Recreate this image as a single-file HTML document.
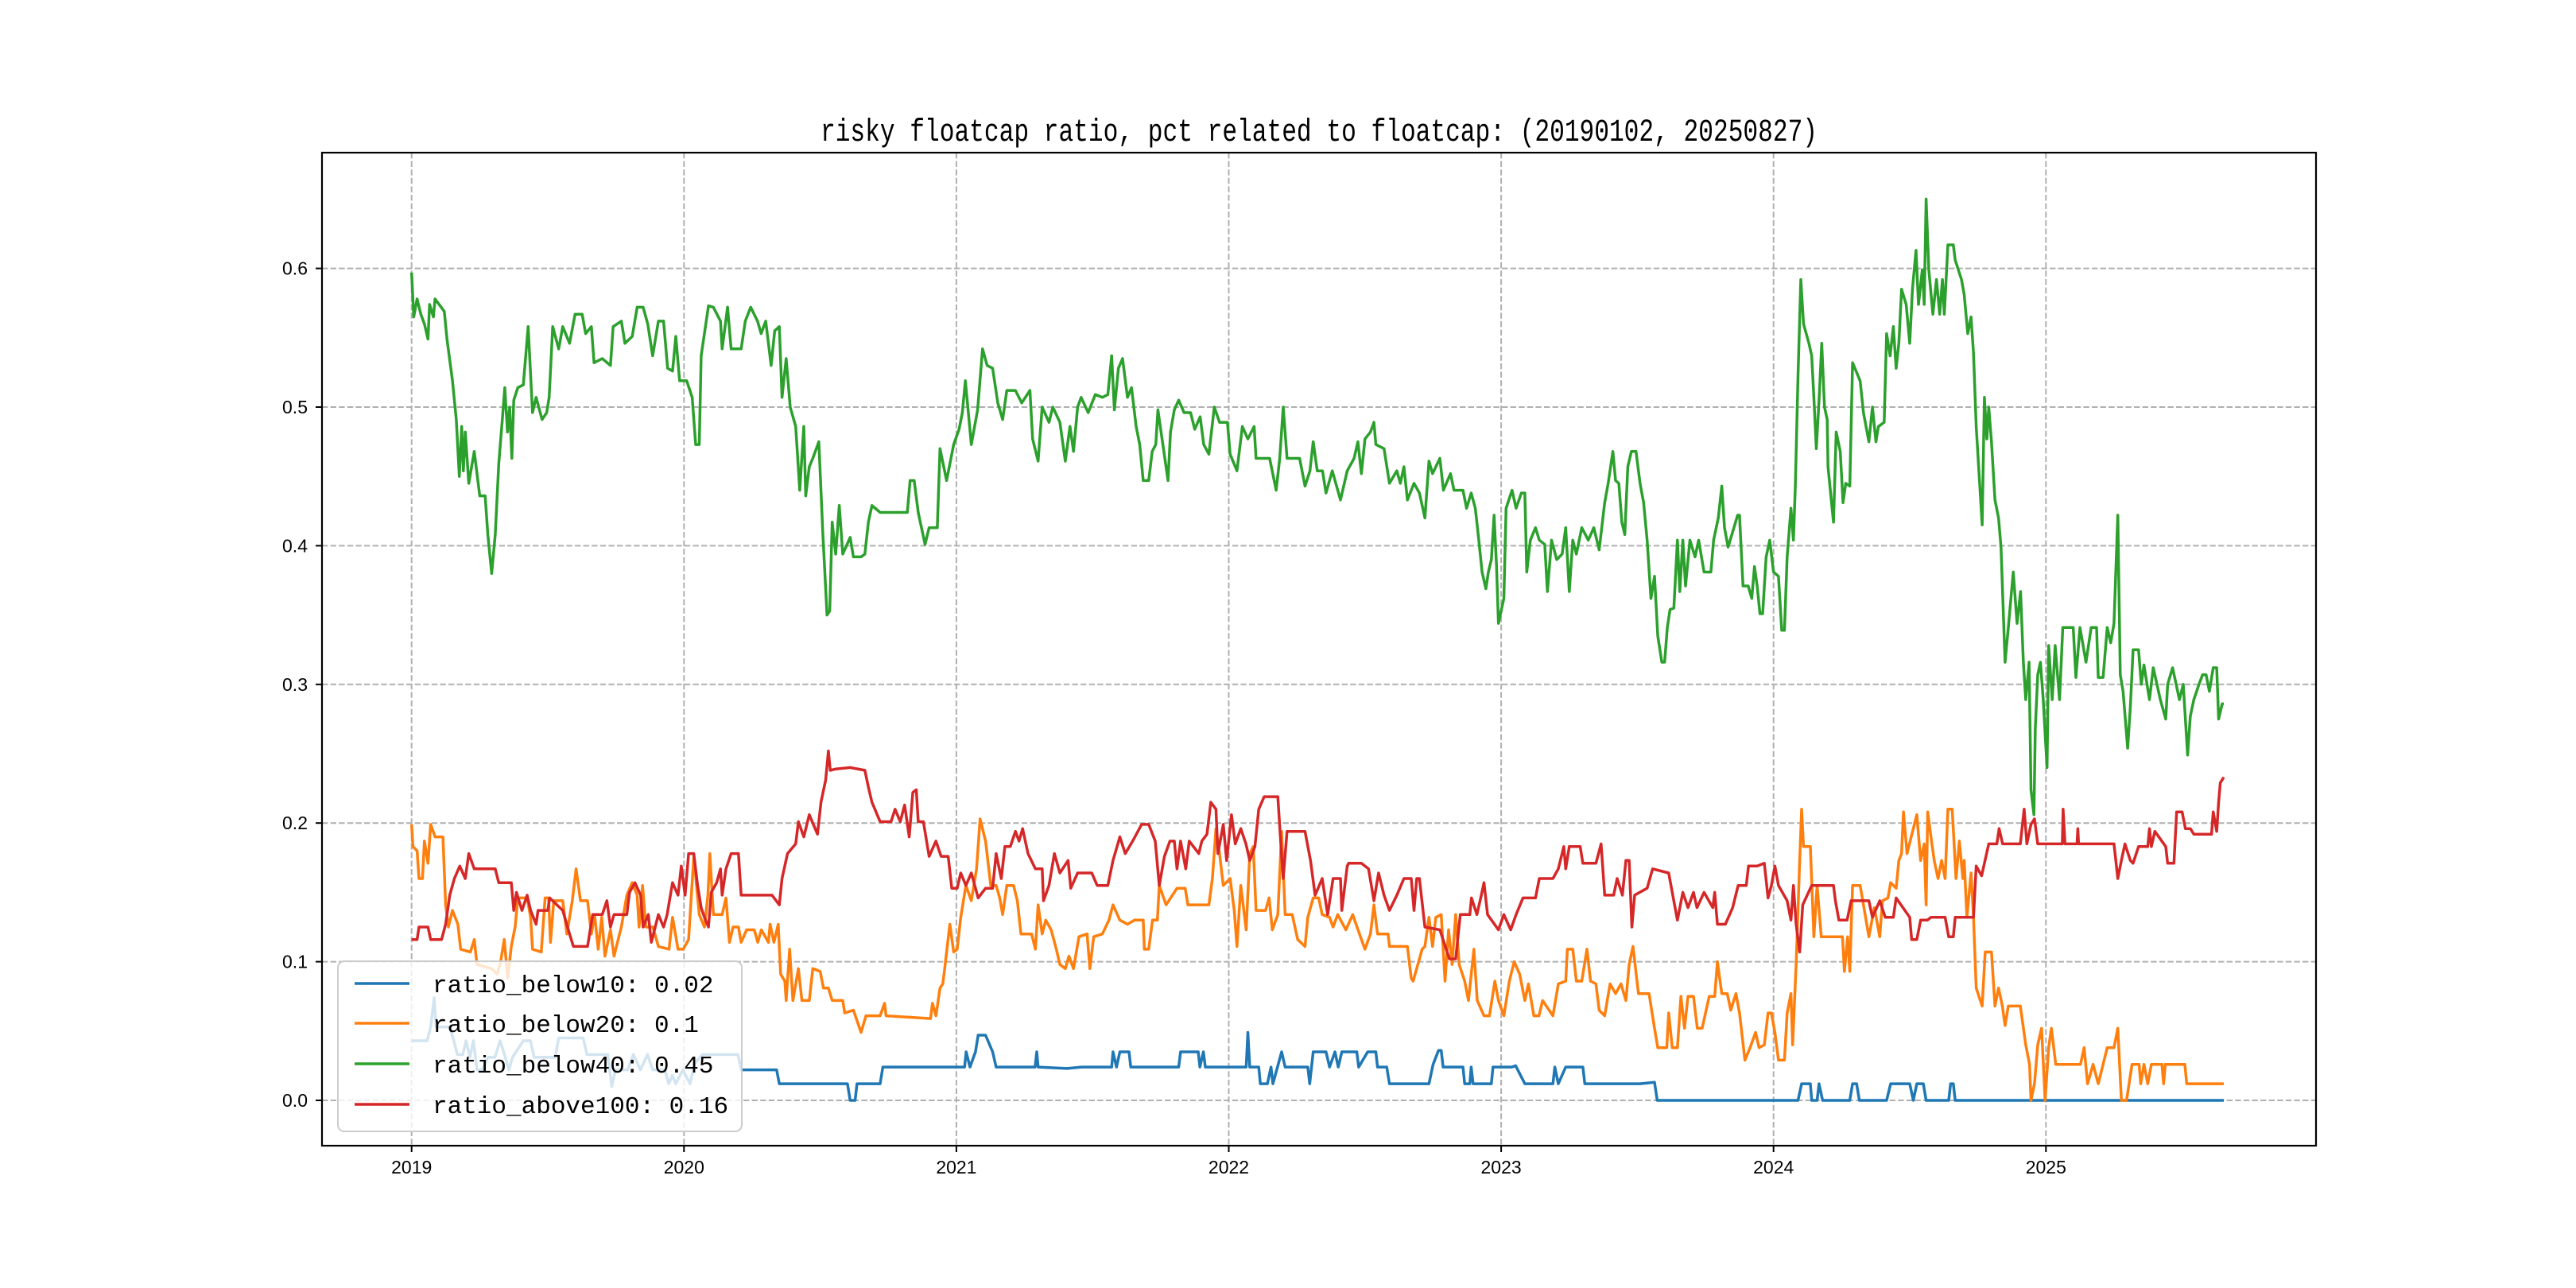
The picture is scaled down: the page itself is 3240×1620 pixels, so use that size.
<!DOCTYPE html>
<html><head><meta charset="utf-8"><title>risky floatcap ratio</title>
<style>html,body{margin:0;padding:0;background:#fff}svg{display:block}</style></head>
<body>
<svg id="chart" width="3240" height="1620" viewBox="0 0 3240 1620" xmlns="http://www.w3.org/2000/svg">
<rect x="0" y="0" width="3240" height="1620" fill="#fff"/>
<defs><clipPath id="plotclip"><rect x="405" y="192" width="2508" height="1249"/></clipPath></defs>
<g id="grid"></g>
<g id="series" clip-path="url(#plotclip)"></g>
<rect x="405" y="192" width="2508" height="1249" fill="none" stroke="#000" stroke-width="2.2"/>
<g id="ticks"></g>
<text x="1659" y="177" text-anchor="middle" font-family="Liberation Mono, Noto Sans CJK SC, monospace" font-size="40" textLength="1254" lengthAdjust="spacingAndGlyphs" fill="#000">risky floatcap ratio, pct related to floatcap: (20190102, 20250827)</text>
<g id="legend">
<rect x="425" y="1209" width="508" height="214" rx="8" fill="#fff" fill-opacity="0.8" stroke="#cccccc" stroke-width="2"/>
</g>
</svg>
<script>
const yearTicks = [2019, 2020, 2021, 2022, 2023, 2024, 2025];
const yearLabels = ["2019", "2020", "2021", "2022", "2023", "2024", "2025"];
const valueTicks = [0.0, 0.1, 0.2, 0.3, 0.4, 0.5, 0.6];
const valueLabels = ["0.0", "0.1", "0.2", "0.3", "0.4", "0.5", "0.6"];
const seriesNames = ["ratio_below10: 0.02", "ratio_below20: 0.1", "ratio_below40: 0.45", "ratio_above100: 0.16"];

const below40Series = [[2019.00,0.597],[2019.008,0.565],[2019.02,0.578],[2019.034,0.567],[2019.047,0.56],[2019.06,0.549],[2019.066,0.574],[2019.08,0.565],[2019.086,0.578],[2019.12,0.569],[2019.13,0.549],[2019.15,0.519],[2019.164,0.491],[2019.175,0.45],[2019.184,0.486],[2019.19,0.454],[2019.197,0.482],[2019.21,0.445],[2019.23,0.468],[2019.25,0.436],[2019.27,0.436],[2019.28,0.408],[2019.294,0.38],[2019.307,0.408],[2019.32,0.459],[2019.333,0.491],[2019.342,0.514],[2019.352,0.482],[2019.36,0.5],[2019.368,0.463],[2019.375,0.505],[2019.39,0.514],[2019.41,0.516],[2019.428,0.558],[2019.444,0.496],[2019.457,0.507],[2019.479,0.491],[2019.496,0.496],[2019.505,0.507],[2019.518,0.558],[2019.54,0.542],[2019.555,0.558],[2019.58,0.546],[2019.60,0.567],[2019.626,0.567],[2019.639,0.553],[2019.66,0.558],[2019.67,0.532],[2019.70,0.535],[2019.73,0.53],[2019.74,0.558],[2019.77,0.562],[2019.783,0.546],[2019.81,0.551],[2019.828,0.572],[2019.85,0.572],[2019.867,0.56],[2019.885,0.537],[2019.906,0.562],[2019.925,0.562],[2019.94,0.528],[2019.958,0.526],[2019.97,0.551],[2019.984,0.519],[2020.01,0.519],[2020.03,0.507],[2020.043,0.473],[2020.056,0.473],[2020.063,0.537],[2020.09,0.573],[2020.108,0.572],[2020.134,0.562],[2020.14,0.542],[2020.16,0.572],[2020.173,0.542],[2020.21,0.542],[2020.225,0.562],[2020.245,0.572],[2020.27,0.562],[2020.283,0.553],[2020.30,0.562],[2020.32,0.53],[2020.333,0.555],[2020.35,0.558],[2020.36,0.507],[2020.375,0.535],[2020.39,0.5],[2020.41,0.486],[2020.425,0.44],[2020.44,0.486],[2020.447,0.436],[2020.46,0.457],[2020.473,0.463],[2020.495,0.475],[2020.51,0.408],[2020.525,0.35],[2020.535,0.353],[2020.544,0.417],[2020.557,0.394],[2020.57,0.429],[2020.583,0.394],[2020.61,0.406],[2020.622,0.392],[2020.65,0.392],[2020.664,0.394],[2020.677,0.417],[2020.69,0.429],[2020.72,0.424],[2020.78,0.424],[2020.82,0.424],[2020.83,0.447],[2020.845,0.447],[2020.86,0.424],[2020.885,0.401],[2020.90,0.413],[2020.93,0.413],[2020.94,0.47],[2020.964,0.447],[2020.99,0.473],[2021.01,0.484],[2021.022,0.496],[2021.033,0.519],[2021.055,0.473],[2021.078,0.498],[2021.096,0.542],[2021.113,0.53],[2021.133,0.528],[2021.152,0.503],[2021.17,0.491],[2021.185,0.512],[2021.217,0.512],[2021.24,0.503],[2021.27,0.512],[2021.28,0.477],[2021.30,0.461],[2021.315,0.5],[2021.34,0.489],[2021.354,0.5],[2021.38,0.489],[2021.40,0.461],[2021.417,0.486],[2021.43,0.468],[2021.445,0.5],[2021.458,0.507],[2021.484,0.496],[2021.51,0.509],[2021.536,0.507],[2021.556,0.509],[2021.57,0.537],[2021.58,0.498],[2021.595,0.528],[2021.61,0.535],[2021.628,0.507],[2021.643,0.514],[2021.66,0.486],[2021.673,0.473],[2021.686,0.447],[2021.706,0.447],[2021.719,0.468],[2021.732,0.473],[2021.74,0.498],[2021.758,0.473],[2021.777,0.447],[2021.786,0.482],[2021.80,0.498],[2021.816,0.505],[2021.836,0.496],[2021.86,0.496],[2021.875,0.484],[2021.895,0.493],[2021.908,0.473],[2021.927,0.466],[2021.947,0.5],[2021.966,0.489],[2021.995,0.489],[2022.005,0.466],[2022.03,0.454],[2022.05,0.486],[2022.07,0.477],[2022.093,0.486],[2022.10,0.463],[2022.15,0.463],[2022.174,0.44],[2022.187,0.463],[2022.20,0.5],[2022.214,0.463],[2022.26,0.463],[2022.28,0.443],[2022.298,0.454],[2022.31,0.475],[2022.325,0.454],[2022.344,0.454],[2022.357,0.438],[2022.38,0.454],[2022.41,0.433],[2022.435,0.454],[2022.46,0.463],[2022.474,0.475],[2022.487,0.452],[2022.50,0.477],[2022.52,0.482],[2022.533,0.489],[2022.54,0.473],[2022.57,0.47],[2022.59,0.445],[2022.617,0.454],[2022.63,0.445],[2022.643,0.457],[2022.656,0.433],[2022.68,0.445],[2022.70,0.438],[2022.72,0.42],[2022.735,0.461],[2022.748,0.452],[2022.775,0.463],[2022.788,0.44],[2022.814,0.452],[2022.827,0.44],[2022.86,0.44],[2022.873,0.427],[2022.89,0.438],[2022.905,0.427],[2022.918,0.404],[2022.93,0.381],[2022.944,0.369],[2022.953,0.381],[2022.964,0.39],[2022.974,0.422],[2022.983,0.385],[2022.99,0.344],[2023.01,0.362],[2023.018,0.427],[2023.04,0.44],[2023.055,0.427],[2023.074,0.438],[2023.087,0.438],[2023.094,0.381],[2023.107,0.404],[2023.126,0.413],[2023.14,0.404],[2023.16,0.401],[2023.17,0.367],[2023.185,0.404],[2023.204,0.39],[2023.224,0.394],[2023.237,0.413],[2023.25,0.367],[2023.263,0.404],[2023.276,0.394],[2023.296,0.413],[2023.32,0.404],[2023.34,0.413],[2023.36,0.397],[2023.38,0.431],[2023.393,0.445],[2023.41,0.468],[2023.42,0.447],[2023.432,0.445],[2023.443,0.417],[2023.454,0.408],[2023.465,0.457],[2023.478,0.468],[2023.495,0.468],[2023.51,0.445],[2023.523,0.431],[2023.536,0.404],[2023.55,0.362],[2023.563,0.378],[2023.575,0.335],[2023.59,0.316],[2023.60,0.316],[2023.61,0.341],[2023.62,0.354],[2023.634,0.355],[2023.647,0.404],[2023.656,0.367],[2023.667,0.404],[2023.677,0.371],[2023.693,0.404],[2023.712,0.392],[2023.725,0.404],[2023.745,0.381],[2023.77,0.381],[2023.78,0.404],[2023.797,0.42],[2023.81,0.443],[2023.82,0.413],[2023.833,0.399],[2023.85,0.41],[2023.868,0.422],[2023.875,0.422],[2023.888,0.371],[2023.907,0.371],[2023.92,0.362],[2023.93,0.385],[2023.94,0.371],[2023.95,0.351],[2023.96,0.351],[2023.973,0.392],[2023.986,0.404],[2024.0,0.381],[2024.018,0.378],[2024.03,0.339],[2024.04,0.339],[2024.05,0.392],[2024.064,0.427],[2024.073,0.404],[2024.08,0.443],[2024.09,0.523],[2024.10,0.592],[2024.11,0.56],[2024.13,0.546],[2024.14,0.537],[2024.148,0.507],[2024.157,0.47],[2024.168,0.509],[2024.177,0.546],[2024.187,0.5],[2024.197,0.491],[2024.20,0.457],[2024.22,0.417],[2024.23,0.482],[2024.245,0.468],[2024.255,0.431],[2024.265,0.445],[2024.28,0.443],[2024.29,0.532],[2024.318,0.519],[2024.33,0.496],[2024.35,0.475],[2024.363,0.5],[2024.376,0.475],[2024.385,0.486],[2024.406,0.489],[2024.415,0.553],[2024.428,0.537],[2024.44,0.558],[2024.45,0.528],[2024.46,0.546],[2024.47,0.585],[2024.487,0.574],[2024.50,0.546],[2024.51,0.585],[2024.523,0.613],[2024.532,0.574],[2024.546,0.599],[2024.553,0.574],[2024.56,0.65],[2024.57,0.599],[2024.585,0.567],[2024.598,0.592],[2024.61,0.567],[2024.62,0.592],[2024.627,0.567],[2024.64,0.617],[2024.66,0.617],[2024.667,0.606],[2024.69,0.592],[2024.70,0.581],[2024.713,0.553],[2024.725,0.565],[2024.734,0.539],[2024.744,0.486],[2024.766,0.415],[2024.774,0.507],[2024.783,0.477],[2024.79,0.5],[2024.80,0.475],[2024.813,0.433],[2024.826,0.42],[2024.835,0.399],[2024.85,0.316],[2024.862,0.341],[2024.88,0.381],[2024.894,0.344],[2024.907,0.367],[2024.917,0.316],[2024.926,0.289],[2024.938,0.316],[2024.945,0.224],[2024.956,0.206],[2024.961,0.268],[2024.97,0.307],[2024.98,0.316],[2024.99,0.289],[2025.004,0.24],[2025.01,0.328],[2025.023,0.289],[2025.034,0.328],[2025.05,0.289],[2025.062,0.341],[2025.10,0.341],[2025.11,0.305],[2025.125,0.341],[2025.147,0.316],[2025.166,0.341],[2025.186,0.341],[2025.192,0.305],[2025.21,0.305],[2025.225,0.341],[2025.238,0.33],[2025.25,0.344],[2025.264,0.422],[2025.273,0.307],[2025.283,0.295],[2025.30,0.254],[2025.31,0.284],[2025.32,0.325],[2025.34,0.325],[2025.35,0.3],[2025.36,0.314],[2025.38,0.289],[2025.394,0.312],[2025.42,0.289],[2025.44,0.275],[2025.447,0.3],[2025.465,0.312],[2025.478,0.3],[2025.49,0.289],[2025.504,0.3],[2025.52,0.249],[2025.53,0.277],[2025.543,0.289],[2025.562,0.3],[2025.575,0.307],[2025.588,0.307],[2025.60,0.295],[2025.614,0.312],[2025.627,0.312],[2025.634,0.275],[2025.647,0.286],[2025.653,0.286]];

const above100Series = [[2019.0,0.116],[2019.02,0.116],[2019.027,0.125],[2019.06,0.125],[2019.07,0.116],[2019.11,0.116],[2019.125,0.127],[2019.14,0.148],[2019.157,0.16],[2019.177,0.169],[2019.197,0.16],[2019.21,0.178],[2019.23,0.167],[2019.307,0.167],[2019.32,0.157],[2019.366,0.157],[2019.375,0.137],[2019.385,0.15],[2019.405,0.137],[2019.424,0.148],[2019.437,0.137],[2019.457,0.127],[2019.464,0.137],[2019.50,0.137],[2019.507,0.146],[2019.555,0.137],[2019.58,0.12],[2019.594,0.111],[2019.646,0.111],[2019.665,0.134],[2019.70,0.134],[2019.717,0.144],[2019.73,0.125],[2019.743,0.134],[2019.79,0.134],[2019.80,0.15],[2019.82,0.157],[2019.841,0.148],[2019.85,0.125],[2019.869,0.134],[2019.88,0.114],[2019.906,0.134],[2019.925,0.125],[2019.938,0.134],[2019.95,0.148],[2019.958,0.157],[2019.978,0.148],[2019.99,0.169],[2020.004,0.148],[2020.017,0.178],[2020.036,0.178],[2020.05,0.155],[2020.063,0.139],[2020.075,0.132],[2020.09,0.125],[2020.10,0.15],[2020.12,0.157],[2020.134,0.167],[2020.14,0.148],[2020.154,0.167],[2020.173,0.178],[2020.2,0.178],[2020.21,0.148],[2020.23,0.148],[2020.323,0.148],[2020.35,0.141],[2020.36,0.16],[2020.38,0.178],[2020.41,0.185],[2020.42,0.201],[2020.44,0.19],[2020.46,0.206],[2020.49,0.192],[2020.503,0.215],[2020.52,0.231],[2020.53,0.252],[2020.537,0.238],[2020.557,0.239],[2020.61,0.24],[2020.664,0.238],[2020.677,0.226],[2020.69,0.215],[2020.72,0.201],[2020.76,0.201],[2020.775,0.21],[2020.794,0.201],[2020.81,0.213],[2020.827,0.19],[2020.84,0.222],[2020.853,0.224],[2020.86,0.201],[2020.879,0.201],[2020.90,0.176],[2020.925,0.187],[2020.944,0.176],[2020.97,0.176],[2020.983,0.153],[2021.003,0.153],[2021.016,0.164],[2021.035,0.155],[2021.055,0.164],[2021.08,0.146],[2021.107,0.153],[2021.133,0.153],[2021.146,0.178],[2021.165,0.16],[2021.178,0.183],[2021.198,0.183],[2021.217,0.194],[2021.23,0.187],[2021.243,0.196],[2021.263,0.178],[2021.29,0.167],[2021.315,0.167],[2021.32,0.144],[2021.34,0.155],[2021.36,0.178],[2021.38,0.164],[2021.41,0.173],[2021.42,0.153],[2021.445,0.164],[2021.497,0.164],[2021.517,0.155],[2021.556,0.155],[2021.575,0.173],[2021.60,0.19],[2021.62,0.178],[2021.647,0.187],[2021.68,0.199],[2021.706,0.199],[2021.73,0.187],[2021.745,0.155],[2021.764,0.176],[2021.784,0.187],[2021.80,0.187],[2021.81,0.167],[2021.823,0.187],[2021.842,0.167],[2021.855,0.187],[2021.89,0.178],[2021.901,0.187],[2021.92,0.192],[2021.934,0.215],[2021.953,0.21],[2021.96,0.178],[2021.98,0.199],[2021.992,0.173],[2022.01,0.206],[2022.024,0.185],[2022.044,0.196],[2022.063,0.185],[2022.077,0.173],[2022.096,0.183],[2022.11,0.21],[2022.13,0.219],[2022.18,0.219],[2022.194,0.176],[2022.20,0.16],[2022.214,0.194],[2022.28,0.194],[2022.30,0.173],[2022.317,0.148],[2022.343,0.16],[2022.363,0.134],[2022.383,0.16],[2022.41,0.16],[2022.415,0.137],[2022.435,0.169],[2022.44,0.171],[2022.487,0.171],[2022.513,0.167],[2022.533,0.144],[2022.55,0.164],[2022.57,0.148],[2022.59,0.137],[2022.617,0.148],[2022.643,0.16],[2022.67,0.16],[2022.68,0.137],[2022.69,0.16],[2022.70,0.16],[2022.72,0.125],[2022.775,0.123],[2022.81,0.102],[2022.833,0.102],[2022.85,0.134],[2022.885,0.134],[2022.891,0.146],[2022.911,0.134],[2022.925,0.146],[2022.937,0.157],[2022.95,0.134],[2022.99,0.123],[2023.01,0.134],[2023.035,0.123],[2023.055,0.134],[2023.08,0.146],[2023.126,0.146],[2023.14,0.16],[2023.19,0.16],[2023.21,0.167],[2023.23,0.183],[2023.237,0.167],[2023.25,0.183],[2023.29,0.183],[2023.30,0.171],[2023.348,0.171],[2023.367,0.185],[2023.38,0.148],[2023.413,0.148],[2023.426,0.16],[2023.445,0.148],[2023.458,0.173],[2023.47,0.173],[2023.48,0.125],[2023.49,0.148],[2023.536,0.153],[2023.556,0.167],[2023.615,0.164],[2023.628,0.15],[2023.647,0.13],[2023.667,0.15],[2023.686,0.139],[2023.706,0.15],[2023.719,0.139],[2023.745,0.15],[2023.777,0.139],[2023.784,0.15],[2023.794,0.127],[2023.823,0.127],[2023.85,0.139],[2023.87,0.155],[2023.90,0.155],[2023.908,0.169],[2023.94,0.169],[2023.966,0.171],[2023.98,0.146],[2023.992,0.155],[2024.005,0.169],[2024.018,0.155],[2024.05,0.144],[2024.064,0.13],[2024.073,0.155],[2024.083,0.127],[2024.096,0.107],[2024.107,0.141],[2024.14,0.155],[2024.22,0.155],[2024.227,0.144],[2024.24,0.13],[2024.27,0.13],[2024.285,0.144],[2024.35,0.144],[2024.363,0.132],[2024.39,0.144],[2024.41,0.132],[2024.44,0.132],[2024.45,0.146],[2024.50,0.132],[2024.507,0.116],[2024.526,0.116],[2024.54,0.13],[2024.565,0.13],[2024.578,0.132],[2024.63,0.132],[2024.643,0.118],[2024.66,0.118],[2024.667,0.132],[2024.715,0.132],[2024.734,0.132],[2024.744,0.169],[2024.764,0.162],[2024.79,0.185],[2024.82,0.185],[2024.828,0.196],[2024.841,0.185],[2024.906,0.185],[2024.92,0.21],[2024.93,0.185],[2024.945,0.199],[2024.958,0.203],[2024.97,0.185],[2025.06,0.185],[2025.063,0.21],[2025.07,0.185],[2025.114,0.185],[2025.117,0.196],[2025.12,0.185],[2025.25,0.185],[2025.264,0.16],[2025.277,0.173],[2025.29,0.185],[2025.31,0.173],[2025.32,0.171],[2025.34,0.183],[2025.374,0.183],[2025.38,0.196],[2025.387,0.183],[2025.40,0.194],[2025.44,0.183],[2025.447,0.171],[2025.47,0.171],[2025.48,0.208],[2025.50,0.208],[2025.512,0.196],[2025.53,0.196],[2025.543,0.192],[2025.608,0.192],[2025.614,0.208],[2025.627,0.194],[2025.634,0.215],[2025.64,0.229],[2025.653,0.233]];

const below20Series = [[2019.0,0.199],[2019.005,0.183],[2019.02,0.18],[2019.027,0.16],[2019.04,0.16],[2019.047,0.187],[2019.06,0.171],[2019.07,0.199],[2019.086,0.19],[2019.115,0.19],[2019.125,0.141],[2019.135,0.125],[2019.15,0.137],[2019.17,0.127],[2019.18,0.109],[2019.216,0.107],[2019.23,0.116],[2019.24,0.098],[2019.294,0.095],[2019.314,0.091],[2019.327,0.1],[2019.34,0.116],[2019.353,0.088],[2019.366,0.111],[2019.38,0.125],[2019.39,0.146],[2019.424,0.146],[2019.437,0.132],[2019.444,0.109],[2019.476,0.107],[2019.49,0.146],[2019.503,0.146],[2019.51,0.114],[2019.522,0.144],[2019.555,0.144],[2019.57,0.12],[2019.59,0.144],[2019.604,0.167],[2019.62,0.144],[2019.646,0.144],[2019.66,0.12],[2019.672,0.134],[2019.685,0.109],[2019.698,0.132],[2019.71,0.104],[2019.73,0.123],[2019.743,0.104],[2019.77,0.125],[2019.79,0.148],[2019.81,0.157],[2019.828,0.148],[2019.835,0.125],[2019.848,0.155],[2019.86,0.125],[2019.886,0.125],[2019.906,0.111],[2019.945,0.109],[2019.958,0.132],[2019.978,0.109],[2019.997,0.109],[2020.017,0.116],[2020.036,0.176],[2020.056,0.134],[2020.075,0.125],[2020.088,0.148],[2020.095,0.178],[2020.108,0.134],[2020.14,0.134],[2020.154,0.146],[2020.167,0.114],[2020.18,0.125],[2020.2,0.125],[2020.21,0.114],[2020.23,0.123],[2020.258,0.123],[2020.271,0.114],[2020.284,0.123],[2020.31,0.114],[2020.316,0.127],[2020.33,0.114],[2020.346,0.127],[2020.355,0.091],[2020.37,0.086],[2020.375,0.072],[2020.388,0.109],[2020.40,0.072],[2020.42,0.095],[2020.433,0.072],[2020.46,0.072],[2020.473,0.095],[2020.50,0.093],[2020.512,0.081],[2020.53,0.081],[2020.544,0.072],[2020.583,0.072],[2020.59,0.063],[2020.622,0.065],[2020.65,0.049],[2020.668,0.061],[2020.72,0.061],[2020.736,0.07],[2020.742,0.061],[2020.905,0.059],[2020.912,0.07],[2020.925,0.061],[2020.94,0.081],[2020.95,0.084],[2020.957,0.095],[2020.964,0.107],[2020.976,0.127],[2020.99,0.107],[2021.003,0.109],[2021.016,0.132],[2021.035,0.155],[2021.055,0.144],[2021.074,0.167],[2021.087,0.203],[2021.107,0.187],[2021.126,0.155],[2021.146,0.155],[2021.159,0.146],[2021.17,0.134],[2021.185,0.155],[2021.21,0.155],[2021.224,0.144],[2021.237,0.12],[2021.276,0.12],[2021.29,0.109],[2021.30,0.141],[2021.315,0.12],[2021.328,0.13],[2021.348,0.123],[2021.367,0.109],[2021.38,0.098],[2021.40,0.095],[2021.413,0.104],[2021.43,0.095],[2021.45,0.118],[2021.48,0.12],[2021.49,0.095],[2021.504,0.118],[2021.536,0.12],[2021.56,0.13],[2021.575,0.141],[2021.60,0.13],[2021.628,0.127],[2021.654,0.13],[2021.686,0.13],[2021.69,0.109],[2021.706,0.109],[2021.72,0.13],[2021.738,0.13],[2021.745,0.155],[2021.77,0.141],[2021.81,0.153],[2021.84,0.153],[2021.85,0.141],[2021.927,0.141],[2021.94,0.16],[2021.953,0.196],[2021.966,0.178],[2021.98,0.155],[2022.005,0.16],[2022.02,0.137],[2022.03,0.111],[2022.044,0.155],[2022.064,0.123],[2022.077,0.178],[2022.09,0.183],[2022.10,0.137],[2022.12,0.137],[2022.135,0.137],[2022.148,0.146],[2022.16,0.123],[2022.18,0.134],[2022.194,0.194],[2022.207,0.134],[2022.233,0.134],[2022.253,0.116],[2022.28,0.111],[2022.29,0.132],[2022.31,0.146],[2022.33,0.146],[2022.343,0.134],[2022.37,0.132],[2022.383,0.125],[2022.40,0.134],[2022.43,0.123],[2022.455,0.134],[2022.48,0.12],[2022.50,0.109],[2022.52,0.12],[2022.533,0.141],[2022.546,0.12],[2022.585,0.12],[2022.59,0.111],[2022.656,0.111],[2022.67,0.088],[2022.677,0.086],[2022.697,0.1],[2022.71,0.109],[2022.72,0.111],[2022.735,0.132],[2022.748,0.111],[2022.76,0.132],[2022.78,0.134],[2022.794,0.086],[2022.807,0.123],[2022.82,0.098],[2022.833,0.134],[2022.846,0.098],[2022.866,0.086],[2022.88,0.072],[2022.90,0.109],[2022.912,0.072],[2022.937,0.061],[2022.957,0.061],[2022.977,0.086],[2022.99,0.072],[2023.01,0.061],[2023.03,0.086],[2023.048,0.1],[2023.068,0.091],[2023.087,0.072],[2023.10,0.084],[2023.12,0.061],[2023.139,0.061],[2023.152,0.072],[2023.19,0.061],[2023.21,0.084],[2023.237,0.086],[2023.243,0.109],[2023.263,0.109],[2023.276,0.086],[2023.296,0.086],[2023.315,0.109],[2023.328,0.086],[2023.348,0.084],[2023.36,0.065],[2023.38,0.061],[2023.40,0.084],[2023.42,0.077],[2023.44,0.084],[2023.458,0.072],[2023.47,0.098],[2023.484,0.111],[2023.504,0.077],[2023.543,0.077],[2023.563,0.052],[2023.575,0.038],[2023.608,0.038],[2023.615,0.063],[2023.628,0.038],[2023.647,0.038],[2023.66,0.075],[2023.673,0.052],[2023.686,0.075],[2023.706,0.075],[2023.72,0.052],[2023.738,0.052],[2023.764,0.075],[2023.784,0.075],[2023.794,0.1],[2023.81,0.077],[2023.83,0.077],[2023.843,0.065],[2023.862,0.077],[2023.875,0.063],[2023.895,0.029],[2023.914,0.038],[2023.934,0.049],[2023.947,0.038],[2023.966,0.04],[2023.98,0.063],[2023.992,0.063],[2024.005,0.049],[2024.018,0.029],[2024.04,0.029],[2024.05,0.063],[2024.064,0.077],[2024.07,0.04],[2024.083,0.098],[2024.096,0.173],[2024.103,0.21],[2024.11,0.183],[2024.135,0.183],[2024.148,0.118],[2024.16,0.155],[2024.175,0.118],[2024.253,0.118],[2024.26,0.093],[2024.272,0.118],[2024.28,0.093],[2024.29,0.155],[2024.318,0.155],[2024.33,0.141],[2024.35,0.118],[2024.37,0.139],[2024.39,0.118],[2024.40,0.144],[2024.42,0.146],[2024.43,0.157],[2024.45,0.153],[2024.46,0.173],[2024.47,0.178],[2024.477,0.208],[2024.49,0.178],[2024.513,0.196],[2024.526,0.206],[2024.54,0.173],[2024.553,0.185],[2024.56,0.141],[2024.566,0.208],[2024.58,0.187],[2024.59,0.173],[2024.604,0.16],[2024.617,0.173],[2024.63,0.16],[2024.64,0.21],[2024.656,0.21],[2024.67,0.16],[2024.682,0.187],[2024.695,0.16],[2024.70,0.173],[2024.71,0.132],[2024.725,0.164],[2024.734,0.132],[2024.744,0.081],[2024.766,0.068],[2024.777,0.107],[2024.80,0.107],[2024.813,0.068],[2024.826,0.081],[2024.84,0.068],[2024.85,0.054],[2024.862,0.068],[2024.906,0.068],[2024.926,0.04],[2024.94,0.026],[2024.945,0.0],[2024.958,0.012],[2024.97,0.04],[2024.984,0.052],[2024.997,0.0],[2025.01,0.038],[2025.02,0.052],[2025.036,0.026],[2025.127,0.026],[2025.14,0.038],[2025.153,0.012],[2025.173,0.026],[2025.192,0.012],[2025.21,0.026],[2025.225,0.038],[2025.25,0.038],[2025.264,0.052],[2025.277,0.0],[2025.296,0.0],[2025.316,0.026],[2025.342,0.026],[2025.348,0.012],[2025.36,0.026],[2025.374,0.012],[2025.387,0.026],[2025.426,0.026],[2025.432,0.012],[2025.438,0.026],[2025.51,0.026],[2025.517,0.012],[2025.653,0.012]];

const below10Series = [[2019.0,0.043],[2019.057,0.043],[2019.07,0.053],[2019.083,0.074],[2019.09,0.053],[2019.14,0.053],[2019.155,0.043],[2019.168,0.033],[2019.188,0.033],[2019.2,0.043],[2019.214,0.031],[2019.227,0.043],[2019.24,0.022],[2019.26,0.022],[2019.28,0.031],[2019.306,0.031],[2019.325,0.043],[2019.344,0.031],[2019.357,0.022],[2019.37,0.031],[2019.41,0.043],[2019.436,0.043],[2019.45,0.031],[2019.527,0.031],[2019.54,0.045],[2019.63,0.045],[2019.644,0.033],[2019.72,0.033],[2019.735,0.01],[2019.748,0.022],[2019.794,0.022],[2019.814,0.033],[2019.84,0.022],[2019.866,0.033],[2019.885,0.022],[2019.93,0.022],[2019.944,0.012],[2019.957,0.018],[2019.97,0.012],[2019.996,0.022],[2020.022,0.012],[2020.04,0.027],[2020.068,0.033],[2020.198,0.033],[2020.211,0.022],[2020.34,0.022],[2020.35,0.012],[2020.60,0.012],[2020.61,0.0],[2020.628,0.0],[2020.635,0.012],[2020.72,0.012],[2020.73,0.024],[2021.03,0.024],[2021.036,0.035],[2021.05,0.024],[2021.07,0.035],[2021.08,0.047],[2021.107,0.047],[2021.133,0.035],[2021.146,0.024],[2021.289,0.024],[2021.295,0.035],[2021.30,0.024],[2021.406,0.023],[2021.46,0.024],[2021.57,0.024],[2021.575,0.035],[2021.588,0.024],[2021.6,0.035],[2021.634,0.035],[2021.64,0.024],[2021.816,0.024],[2021.823,0.035],[2021.888,0.035],[2021.894,0.024],[2021.907,0.035],[2021.914,0.024],[2022.064,0.024],[2022.07,0.049],[2022.077,0.024],[2022.11,0.024],[2022.116,0.012],[2022.142,0.012],[2022.155,0.024],[2022.162,0.012],[2022.194,0.035],[2022.207,0.024],[2022.29,0.024],[2022.297,0.012],[2022.31,0.035],[2022.357,0.035],[2022.37,0.024],[2022.39,0.035],[2022.402,0.024],[2022.415,0.035],[2022.47,0.035],[2022.477,0.024],[2022.51,0.035],[2022.54,0.035],[2022.546,0.024],[2022.58,0.024],[2022.59,0.012],[2022.735,0.012],[2022.75,0.026],[2022.77,0.036],[2022.78,0.036],[2022.787,0.024],[2022.86,0.024],[2022.866,0.012],[2022.885,0.012],[2022.89,0.024],[2022.897,0.012],[2022.964,0.012],[2022.97,0.024],[2023.04,0.024],[2023.053,0.025],[2023.087,0.012],[2023.19,0.012],[2023.197,0.024],[2023.21,0.012],[2023.237,0.024],[2023.30,0.024],[2023.307,0.012],[2023.51,0.012],[2023.563,0.013],[2023.573,0.0],[2024.09,0.0],[2024.103,0.012],[2024.135,0.012],[2024.14,0.0],[2024.16,0.0],[2024.167,0.012],[2024.18,0.0],[2024.28,0.0],[2024.29,0.012],[2024.305,0.012],[2024.315,0.0],[2024.415,0.0],[2024.43,0.012],[2024.50,0.012],[2024.513,0.0],[2024.526,0.012],[2024.55,0.012],[2024.56,0.0],[2024.643,0.0],[2024.65,0.012],[2024.66,0.012],[2024.667,0.0],[2025.653,0.0]];

const NS = "http://www.w3.org/2000/svg";
const X0 = 517.7, XPY = 342.6, Y0 = 1384, YPU = 1744;
function xScale(t) { return X0 + (t - 2019) * XPY; }
function yScale(v) { return Y0 - v * YPU; }
function mk(tag, attrs) {
  const el = document.createElementNS(NS, tag);
  for (const k in attrs) el.setAttribute(k, attrs[k]);
  return el;
}
const grid = document.getElementById("grid");
const ticks = document.getElementById("ticks");
yearTicks.forEach((yr, i) => {
  const x = xScale(yr);
  const g = mk("line", {x1: x, x2: x, y1: 192, y2: 1441, stroke: "#b0b0b0", "stroke-width": 2, "stroke-dasharray": "7.4,3.2"});
  
  
  grid.appendChild(g);
  const tk = mk("line", {x1: x, x2: x, y1: 1441, y2: 1449, stroke: "#000", "stroke-width": 2});
  
  
  ticks.appendChild(tk);
  const lb = mk("text", {x: x, y: 1476, "text-anchor": "middle", "font-family": "Liberation Sans, sans-serif", "font-size": 23, fill: "#000"});
  lb.textContent = yearLabels[i];
  
  
  ticks.appendChild(lb);
});
valueTicks.forEach((v, i) => {
  const y = yScale(v);
  const g = mk("line", {x1: 405, x2: 2913, y1: y, y2: y, stroke: "#b0b0b0", "stroke-width": 2, "stroke-dasharray": "7.4,3.2"});
  
  
  grid.appendChild(g);
  const tk = mk("line", {x1: 397, x2: 405, y1: y, y2: y, stroke: "#000", "stroke-width": 2});
  
  
  ticks.appendChild(tk);
  const lb = mk("text", {x: 387, y: y + 8, "text-anchor": "end", "font-family": "Liberation Sans, sans-serif", "font-size": 23, fill: "#000"});
  lb.textContent = valueLabels[i];
  
  
  ticks.appendChild(lb);
});
const seriesList = [
  [below10Series, "#1f77b4", "line-ratio-below10"],
  [below20Series, "#ff7f0e", "line-ratio-below20"],
  [below40Series, "#2ca02c", "line-ratio-below40"],
  [above100Series, "#d62728", "line-ratio-above100"]
];
const sg = document.getElementById("series");
seriesList.forEach(s => {
  const d = s[0].map((p, i) => (i ? "L" : "M") + xScale(p[0]).toFixed(1) + "," + yScale(p[1]).toFixed(1)).join(" ");
  const path = mk("path", {d: d, fill: "none", stroke: s[1], "stroke-width": 3.5, "stroke-linejoin": "round", "stroke-linecap": "butt"});
  
  
  sg.appendChild(path);
});
const lg = document.getElementById("legend");
const rowY = [1237, 1287, 1338, 1389];
seriesList.forEach((s, i) => {
  const ln = mk("line", {x1: 446, x2: 515, y1: rowY[i], y2: rowY[i], stroke: s[1], "stroke-width": 3.5});
  
  
  lg.appendChild(ln);
  const tx = mk("text", {x: 544, y: rowY[i] + 11, "font-family": "Liberation Mono, monospace", "font-size": 31, fill: "#000"});
  tx.textContent = seriesNames[i];
  
  
  lg.appendChild(tx);
});
</script>
</body></html>
